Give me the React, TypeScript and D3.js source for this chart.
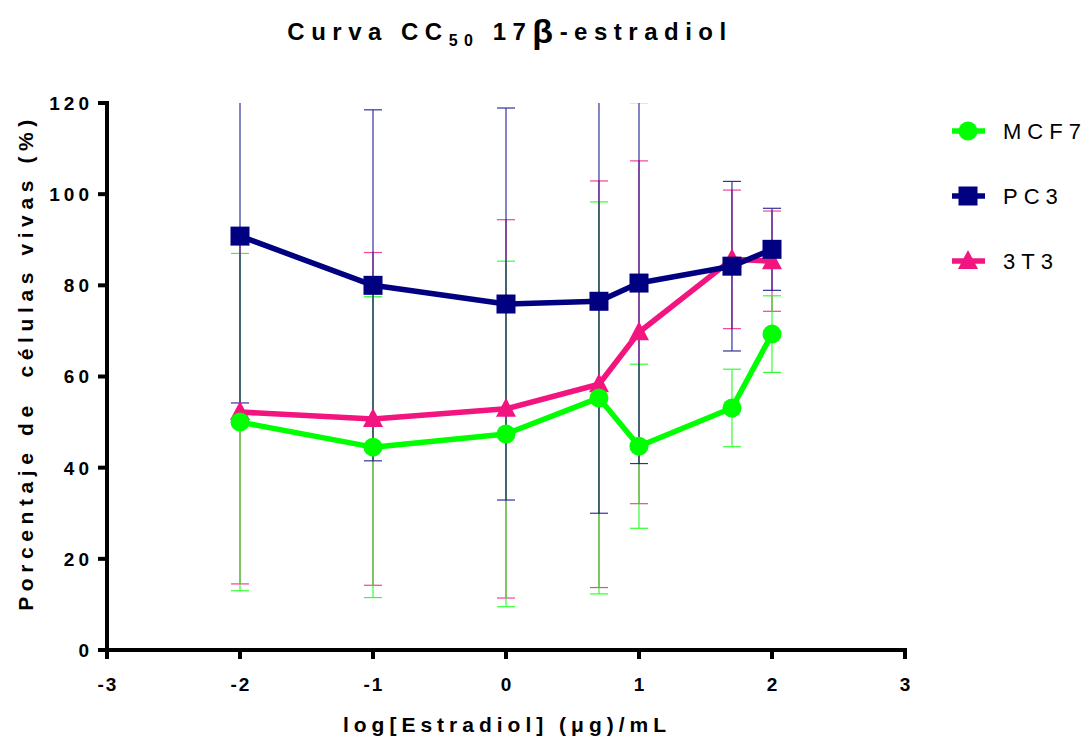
import * as d3 from 'd3'

// log concentraciones
const doses = [-2, -1, 0, 0.699, 1, 1.699, 2]

const mcf7Mean = [50.0, 44.5, 47.4, 55.3, 44.7, 53.1, 69.3]
const mcf7Sd = [37.0, 33.0, 37.9, 43.0, 18.0, 8.5, 8.4]

const pc3Mean = [90.8, 80.0, 75.9, 76.5, 80.5, 84.2, 87.9]
const pc3Sd = [36.6, 38.5, 43.0, 46.5, 39.6, 18.6, 9.0]

const t3Mean = [52.2, 50.7, 52.9, 58.3, 69.7, 85.7, 85.3]
const t3Sd = [37.7, 36.5, 41.5, 44.6, 37.6, 15.2, 11.0]

const xTicks = [-3, -2, -1, 0, 1, 2, 3]
const yTicks = [0, 20, 40, 60, 80, 100, 120]

const width = 1091
const height = 738
const left = 107
const right = 905
const top = 103
const bottom = 650

const font = '"Liberation Sans", Arial, sans-serif'

type Serie = { name: string; mean: number[]; sd: number[]; color: string; shape: string }

const series: Serie[] = [
	{ name: '3T3', mean: t3Mean, sd: t3Sd, color: '#f2157f', shape: 'triangle' },
	{ name: 'MCF7', mean: mcf7Mean, sd: mcf7Sd, color: '#00ff00', shape: 'circle' },
	{ name: 'PC3', mean: pc3Mean, sd: pc3Sd, color: '#000080', shape: 'square' },
]
const legendOrder = ['MCF7', 'PC3', '3T3']

const Marker = ({ shape, x, y, color }: { shape: string; x: number; y: number; color: string }) => {
	if (shape === 'circle') return <circle cx={x} cy={y} r={9.5} fill={color} />
	if (shape === 'square') return <rect x={x - 9.5} y={y - 9.5} width={19} height={19} fill={color} />
	return <path d={`M${x},${y - 11}L${x + 10},${y + 8}L${x - 10},${y + 8}Z`} fill={color} />
}

export default function App() {
	const x = d3.scaleLinear().domain([-3, 3]).range([left, right])
	const y = d3.scaleLinear().domain([0, 120]).range([bottom, top])

	const line = d3
		.line<number>()
		.x((_, i) => x(doses[i]))
		.y((d) => y(d))

	return (
		<svg width={width} height={height} style={{ position: 'absolute', left: 0, top: 0, background: '#fff' }}>
			<defs>
				<clipPath id="plot">
					<rect x={left} y={top} width={right - left + 20} height={bottom - top} />
				</clipPath>
			</defs>

			{/* titulo */}
			<text x={510} y={40} textAnchor="middle" fontFamily={font} fontWeight="bold" fontSize={24} letterSpacing={6.5}>
				Curva CC<tspan fontSize={16} dy={6}>50</tspan>
				<tspan dy={-6}> 17</tspan>
				<tspan fontSize={34} dy={3}>β</tspan>
				<tspan dy={-3}>-estradiol</tspan>
			</text>

			{/* barras de error */}
			<g clipPath="url(#plot)">
				{series.map((s) =>
					s.mean.map((m, i) => {
						const cx = x(doses[i])
						const y1 = y(m + s.sd[i])
						const y0 = y(m - s.sd[i])
						return (
							<g key={s.name + i} stroke={s.color} strokeWidth={1.2} opacity={0.8}>
								<line x1={cx} x2={cx} y1={y1} y2={y0} />
								<line x1={cx - 9} x2={cx + 9} y1={y1} y2={y1} />
								<line x1={cx - 9} x2={cx + 9} y1={y0} y2={y0} />
							</g>
						)
					})
				)}
			</g>

			{/* lineas y marcadores */}
			{series.map((s) => (
				<g key={s.name}>
					<path d={line(s.mean) ?? ''} fill="none" stroke={s.color} strokeWidth={5.5} strokeLinejoin="round" />
					{s.mean.map((m, i) => (
						<Marker key={i} shape={s.shape} x={x(doses[i])} y={y(m)} color={s.color} />
					))}
				</g>
			))}

			{/* eje y */}
			<line x1={left} x2={left} y1={top - 2} y2={bottom + 2} stroke="#000" strokeWidth={4} />
			{yTicks.map((t) => (
				<g key={t}>
					<line x1={left - 9} x2={left} y1={y(t)} y2={y(t)} stroke="#000" strokeWidth={4} />
					<text
						x={left - 14}
						y={y(t)}
						dy="0.36em"
						textAnchor="end"
						fontFamily={font}
						fontWeight="bold"
						fontSize={19}
						letterSpacing={4}
					>
						{t}
					</text>
				</g>
			))}
			<text
				transform={`translate(33,${(top + bottom) / 2 - 14}) rotate(-90)`}
				textAnchor="middle"
				fontFamily={font}
				fontWeight="bold"
				fontSize={21}
				letterSpacing={5.6}
				style={{ whiteSpace: 'pre' }}
			>
				{'Porcentaje de  células vivas (%)'}
			</text>

			{/* eje x */}
			<line x1={left - 2} x2={right + 2} y1={bottom} y2={bottom} stroke="#000" strokeWidth={4} />
			{xTicks.map((t) => (
				<g key={t}>
					<line x1={x(t)} x2={x(t)} y1={bottom} y2={bottom + 9} stroke="#000" strokeWidth={4} />
					<text x={x(t) + 1} y={691} textAnchor="middle" fontFamily={font} fontWeight="bold" fontSize={19} letterSpacing={2}>
						{t}
					</text>
				</g>
			))}
			<text x={507} y={732} textAnchor="middle" fontFamily={font} fontWeight="bold" fontSize={21} letterSpacing={5}>
				log[Estradiol] (μg)/mL
			</text>

			{/* leyenda */}
			{legendOrder.map((name, i) => {
				const s = series.find((d) => d.name === name)!
				const ly = 131 + i * 65
				return (
					<g key={name}>
						<line x1={952} x2={985} y1={ly} y2={ly} stroke={s.color} strokeWidth={5.5} />
						<Marker shape={s.shape} x={968} y={ly} color={s.color} />
						<text x={1003} y={ly} dy="0.36em" fontFamily={font} fontSize={22} letterSpacing={6}>
							{name}
						</text>
					</g>
				)
			})}
		</svg>
	)
}
